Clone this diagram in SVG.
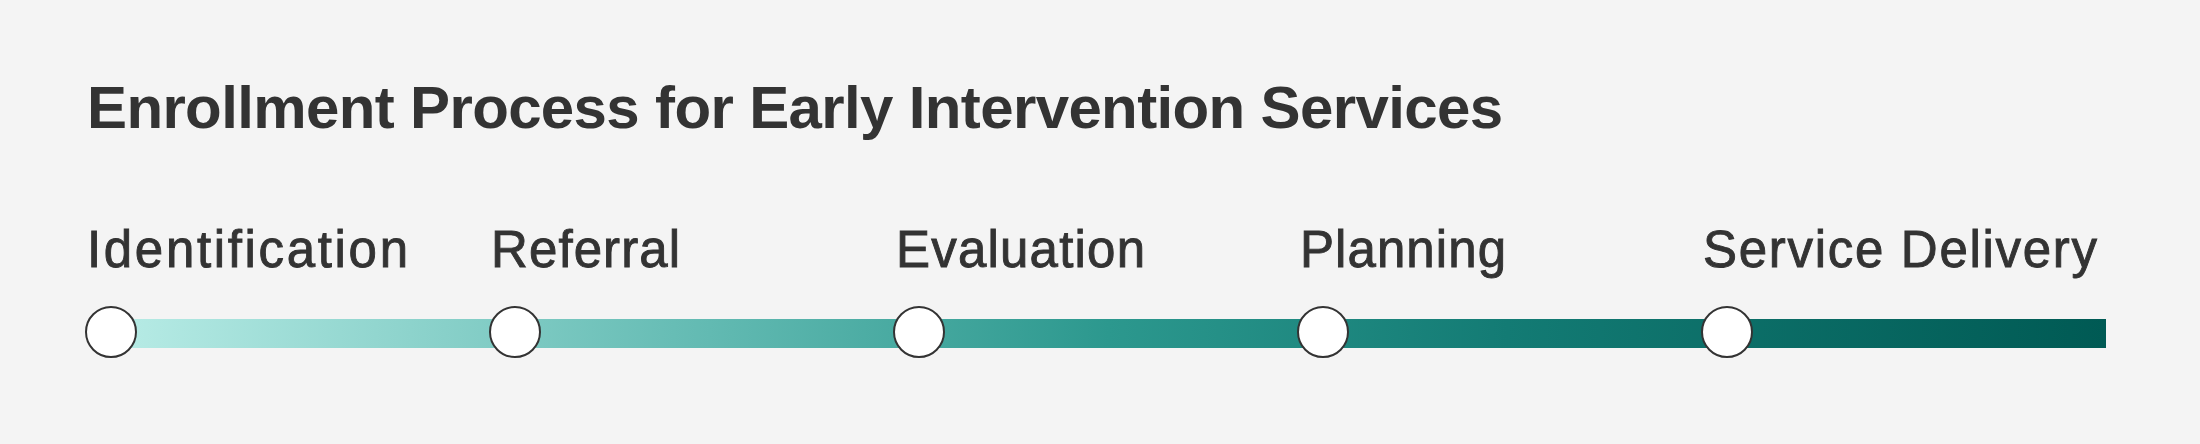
<svg xmlns="http://www.w3.org/2000/svg" width="2200" height="444" viewBox="0 0 2200 444">
  <style>
    .title { font-family: "Liberation Sans", Arial, sans-serif; font-weight: bold; font-size: 60px; fill: #333333; }
    .label { font-family: "Liberation Sans", Arial, sans-serif; font-size: 51px; fill: #333333; stroke: #333333; stroke-width: 0.9; }
    .node { fill: #ffffff; stroke: #333333; stroke-width: 2; }
  </style>
  <defs>
    <linearGradient id="barGrad" gradientUnits="userSpaceOnUse" x1="111" y1="0" x2="2106" y2="0">
      <stop offset="0" stop-color="#b8ece6"/>
      <stop offset="0.3" stop-color="#62bab2"/>
      <stop offset="0.5" stop-color="#2c988e"/>
      <stop offset="0.7" stop-color="#137b74"/>
      <stop offset="1" stop-color="#005a54"/>
    </linearGradient>
  </defs>
  <rect x="0" y="0" width="2200" height="444" fill="#f4f4f4"/>
  <text class="title" x="87" y="128" textLength="1416" lengthAdjust="spacing">Enrollment Process for Early Intervention Services</text>
  <g id="connectors">
    <rect x="111" y="319" width="1995" height="29" fill="url(#barGrad)"/>
  </g>
  <g id="node-identification">
    <text class="label" x="87" y="267" textLength="321" lengthAdjust="spacing">Identification</text>
    <circle class="node" cx="111" cy="332" r="25"/>
  </g>
  <g id="node-referral">
    <text class="label" x="491" y="267" textLength="189" lengthAdjust="spacing">Referral</text>
    <circle class="node" cx="515" cy="332" r="25"/>
  </g>
  <g id="node-evaluation">
    <text class="label" x="896" y="267" textLength="249" lengthAdjust="spacing">Evaluation</text>
    <circle class="node" cx="919" cy="332" r="25"/>
  </g>
  <g id="node-planning">
    <text class="label" x="1300" y="267" textLength="206" lengthAdjust="spacing">Planning</text>
    <circle class="node" cx="1323" cy="332" r="25"/>
  </g>
  <g id="node-service-delivery">
    <text class="label" x="1703" y="267" textLength="394" lengthAdjust="spacing">Service Delivery</text>
    <circle class="node" cx="1727" cy="332" r="25"/>
  </g>
</svg>
